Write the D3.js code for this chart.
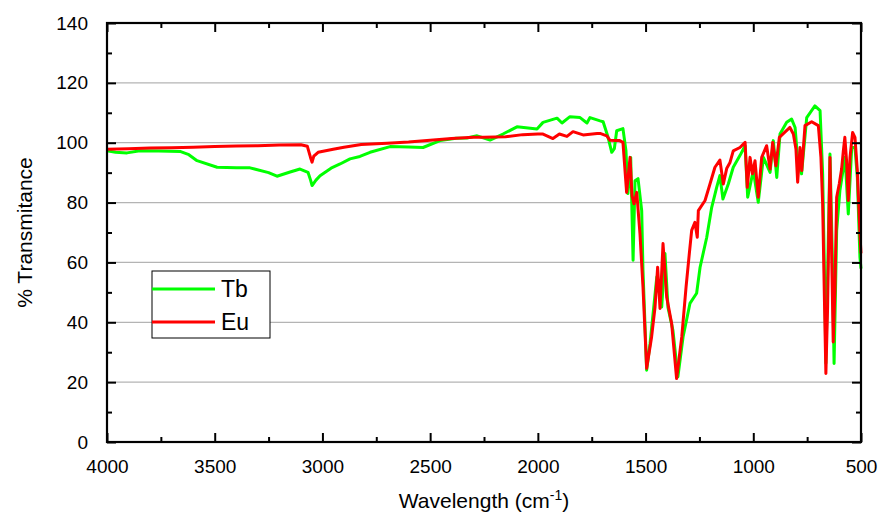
<!DOCTYPE html>
<html>
<head>
<meta charset="utf-8">
<script src="https://cdn.jsdelivr.net/npm/d3@7"></script>
<style>
  body { margin: 0; background: #fff; }
  svg { display: block; font-family: Arial, "Liberation Sans", sans-serif; }
</style>
</head>
<body>
<div id="chart"></div>
<script>
const WIDTH = 882;
const HEIGHT = 519;
const margin = { top: 23, right: 21, bottom: 77, left: 107 };

// Tb spectrum (green)
const tbWavenumber = [4000, 3960, 3907, 3847, 3760, 3661, 3620, 3582, 3489, 3400, 3336, 3250, 3211, 3150, 3104, 3067, 3055, 3048, 3030, 3011,
  2960, 2918, 2872, 2826, 2779, 2686, 2600, 2533, 2454, 2380, 2329, 2282, 2222, 2162, 2097, 2004, 1976, 1911, 1888, 1851,
  1804, 1772, 1758, 1711, 1697, 1674, 1657, 1645, 1634, 1605, 1591, 1582, 1569, 1558, 1549, 1535, 1518, 1512, 1495, 1479,
  1448, 1425, 1410, 1396, 1373, 1350, 1326, 1294, 1263, 1247, 1216, 1193, 1170, 1155, 1141, 1116, 1093, 1062, 1038, 1026,
  1000, 977, 953, 922, 907, 891, 876, 845, 822, 806, 796, 776, 752, 714, 690, 678, 667, 663, 644, 633,
  625, 613, 598, 574, 559, 543, 528, 517, 505, 500];
const tbTransmittance = [97.3, 96.8, 96.6, 97.3, 97.2, 97.1, 96.0, 94.0, 91.8, 91.6, 91.6, 90.0, 88.8, 90.2, 91.2, 90.1, 87.5, 85.7, 87.5, 89.0,
  91.5, 92.9, 94.6, 95.4, 96.8, 98.7, 98.6, 98.4, 100.7, 101.5, 101.6, 102.3, 100.9, 102.9, 105.3, 104.6, 106.8, 108.2, 106.6, 108.7,
  108.4, 106.6, 108.4, 107.3, 107.0, 101.8, 96.8, 98.0, 104.0, 104.7, 97.3, 83.0, 95.1, 60.7, 87.3, 88.0, 77.3, 57.3, 24.0, 33.0,
  55.1, 45.1, 63.0, 45.0, 37.3, 21.8, 35.1, 46.3, 49.7, 58.4, 68.4, 78.4, 85.1, 89.0, 81.2, 86.2, 91.8, 95.7, 99.0, 81.8,
  90.7, 80.1, 95.1, 90.1, 100.7, 88.4, 102.9, 106.8, 107.9, 105.1, 96.2, 89.6, 108.4, 112.3, 110.7, 89.6, 46.2, 26.3, 96.2, 61.8,
  26.2, 70.7, 84.0, 95.1, 76.2, 98.4, 98.4, 88.4, 61.8, 57.9];

// Eu spectrum (red)
const euWavenumber = [4000, 3900, 3800, 3700, 3600, 3500, 3400, 3300, 3200, 3100, 3070, 3055, 3048, 3040, 3020, 2950, 2900, 2820, 2700, 2600,
  2500, 2400, 2300, 2250, 2150, 2070, 2000, 1976, 1930, 1900, 1865, 1837, 1790, 1725, 1711, 1680, 1665, 1640, 1620, 1605,
  1588, 1572, 1563, 1554, 1541, 1526, 1512, 1495, 1472, 1456, 1444, 1433, 1419, 1402, 1379, 1356, 1332, 1312, 1297, 1286,
  1271, 1260, 1255, 1224, 1201, 1178, 1155, 1139, 1123, 1108, 1093, 1062, 1038, 1028, 1015, 1004, 992, 977, 961, 938,
  922, 910, 895, 879, 830, 814, 802, 794, 783, 775, 760, 729, 698, 686, 678, 670, 663, 655, 644, 636,
  629, 621, 613, 601, 590, 582, 575, 567, 559, 551, 539, 528, 517, 505, 500];
const euTransmittance = [97.8, 98.0, 98.2, 98.3, 98.5, 98.7, 98.9, 99.0, 99.2, 99.3, 98.8, 95.0, 93.5, 95.5, 96.8, 97.8, 98.5, 99.4, 99.8, 100.2,
  100.8, 101.4, 101.8, 101.8, 102.0, 102.7, 102.9, 102.9, 101.4, 102.9, 102.1, 103.7, 102.6, 103.1, 103.1, 102.3, 100.8, 100.7, 100.7, 100.1,
  83.4, 95.1, 82.3, 79.6, 83.4, 69.6, 51.8, 24.6, 35.1, 45.1, 58.4, 44.6, 66.3, 48.4, 39.6, 21.2, 35.1, 51.8, 62.9, 70.7,
  73.4, 68.4, 77.3, 80.7, 86.2, 91.8, 94.2, 86.2, 91.5, 93.4, 97.3, 98.4, 100.1, 85.1, 95.1, 89.6, 94.0, 81.8, 95.1, 99.0,
  91.2, 100.1, 92.3, 101.8, 105.1, 102.9, 97.9, 86.8, 98.4, 90.7, 105.7, 107.0, 105.7, 95.1, 79.6, 48.4, 22.9, 45.1, 95.1, 61.8,
  33.4, 50.7, 81.8, 86.2, 91.2, 97.3, 101.8, 94.0, 80.7, 95.1, 103.4, 101.8, 90.7, 69.6, 63.0];

const xMajorTicks = [4000, 3500, 3000, 2500, 2000, 1500, 1000, 500];
const xMinorTicks = [3750, 3250, 2750, 2250, 1750, 1250, 750];
const yMajorTicks = [0, 20, 40, 60, 80, 100, 120, 140];
const yMinorTicks = [10, 30, 50, 70, 90, 110, 130];
const gridValues = [20, 40, 60, 80, 100, 120];

const series = [
  { name: "Tb", color: "#00ff00", x: tbWavenumber, y: tbTransmittance },
  { name: "Eu", color: "#ff0000", x: euWavenumber, y: euTransmittance }
];

const w = WIDTH - margin.left - margin.right;
const h = HEIGHT - margin.top - margin.bottom;

const svg = d3.select("#chart").append("svg")
  .attr("width", WIDTH)
  .attr("height", HEIGHT);

const g = svg.append("g").attr("transform", `translate(${margin.left},${margin.top})`);

const x = d3.scaleLinear().domain([4000, 500]).range([0, w]);
const y = d3.scaleLinear().domain([0, 140]).range([h, 0]);

// grid
g.append("g")
  .selectAll("line")
  .data(gridValues)
  .join("line")
  .attr("x1", 0)
  .attr("x2", w)
  .attr("y1", d => y(d))
  .attr("y2", d => y(d))
  .attr("stroke", "#b4b4b4")
  .attr("stroke-width", 1.2);

// spectra
const line = d3.line()
  .x(d => x(d[0]))
  .y(d => y(d[1]));

series.forEach(s => {
  const pts = s.x.map((v, i) => [v, s.y[i]]);
  g.append("path")
    .datum(pts)
    .attr("fill", "none")
    .attr("stroke", s.color)
    .attr("stroke-width", 3)
    .attr("stroke-linejoin", "round")
    .attr("d", line);
});

// axes with inward ticks on all four sides
function styleAxis(sel) {
  sel.select(".domain").remove();
  sel.selectAll("line").attr("stroke", "#000").attr("stroke-width", 2);
  sel.selectAll("text").attr("fill", "#000").style("font-size", "19px");
}

g.append("g").attr("transform", `translate(0,${h})`)
  .call(d3.axisBottom(x).tickValues(xMajorTicks).tickSize(-9).tickPadding(18).tickFormat(d3.format("d")))
  .call(styleAxis);
g.append("g").attr("transform", `translate(0,${h})`)
  .call(d3.axisBottom(x).tickValues(xMinorTicks).tickSize(-5).tickFormat(""))
  .call(styleAxis);
g.append("g")
  .call(d3.axisTop(x).tickValues(xMajorTicks).tickSize(-9).tickFormat(""))
  .call(styleAxis);
g.append("g")
  .call(d3.axisTop(x).tickValues(xMinorTicks).tickSize(-5).tickFormat(""))
  .call(styleAxis);

g.append("g")
  .call(d3.axisLeft(y).tickValues(yMajorTicks).tickSize(-9).tickPadding(19).tickFormat(d3.format("d")))
  .call(styleAxis);
g.append("g")
  .call(d3.axisLeft(y).tickValues(yMinorTicks).tickSize(-5).tickFormat(""))
  .call(styleAxis);
g.append("g").attr("transform", `translate(${w},0)`)
  .call(d3.axisRight(y).tickValues(yMajorTicks).tickSize(-9).tickFormat(""))
  .call(styleAxis);
g.append("g").attr("transform", `translate(${w},0)`)
  .call(d3.axisRight(y).tickValues(yMinorTicks).tickSize(-5).tickFormat(""))
  .call(styleAxis);

// frame
g.append("rect")
  .attr("width", w)
  .attr("height", h)
  .attr("fill", "none")
  .attr("stroke", "#000")
  .attr("stroke-width", 2.2);

// axis titles
const xTitle = svg.append("text")
  .attr("x", margin.left + w / 2)
  .attr("y", 508)
  .attr("text-anchor", "middle")
  .style("font-size", "21px");
xTitle.append("tspan").text("Wavelength (cm");
xTitle.append("tspan").attr("dy", -8).style("font-size", "14px").text("-1");
xTitle.append("tspan").attr("dy", 8).text(")");

svg.append("text")
  .attr("transform", `translate(32,${margin.top + h / 2}) rotate(-90)`)
  .attr("text-anchor", "middle")
  .style("font-size", "21px")
  .text("% Transmitance");

// legend
const legend = svg.append("g").attr("transform", "translate(152,271)");
legend.append("rect")
  .attr("width", 118)
  .attr("height", 67)
  .attr("fill", "#fff")
  .attr("stroke", "#000")
  .attr("stroke-width", 1);

series.forEach((s, i) => {
  const yy = 18 + i * 33;
  legend.append("line")
    .attr("x1", 0).attr("x2", 63)
    .attr("y1", yy).attr("y2", yy)
    .attr("stroke", s.color)
    .attr("stroke-width", 3);
  legend.append("text")
    .attr("x", 69)
    .attr("y", yy + 8)
    .style("font-size", "23px")
    .text(s.name);
});
</script>
</body>
</html>
